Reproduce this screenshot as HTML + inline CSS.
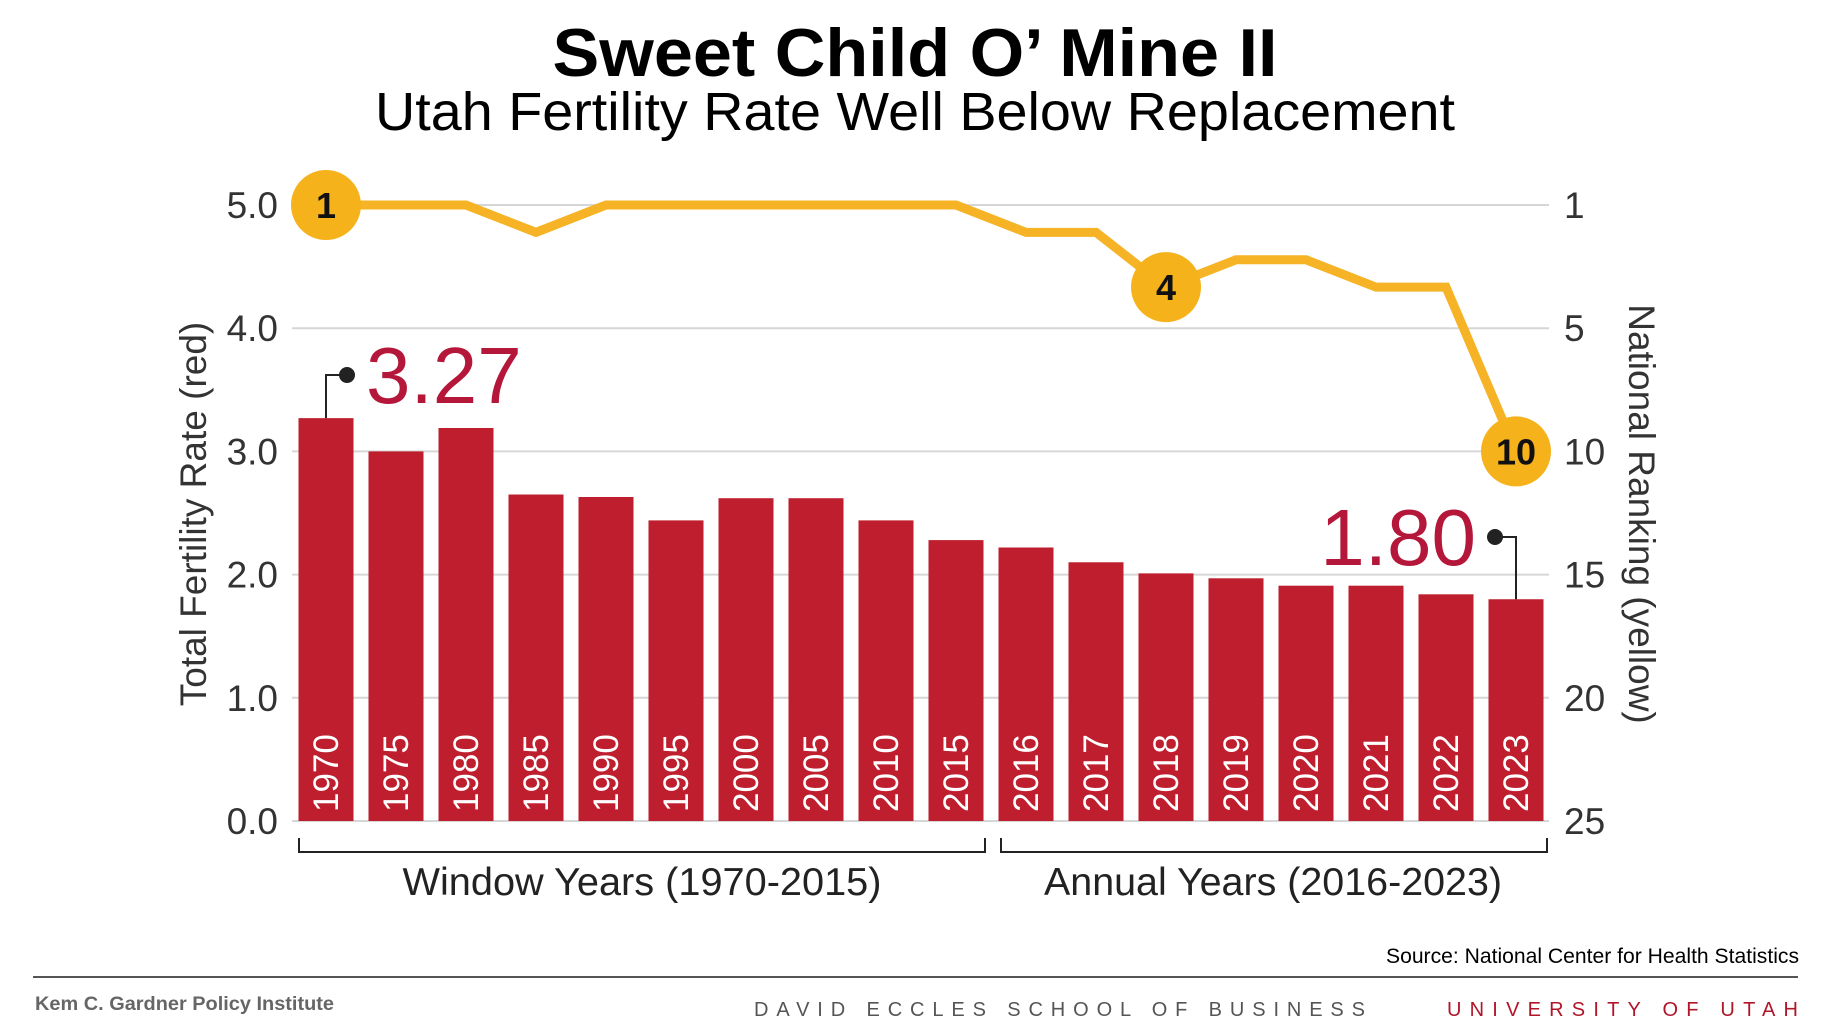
<!DOCTYPE html>
<html><head><meta charset="utf-8"><style>
html,body{margin:0;padding:0;background:#fff;}
svg{display:block;font-family:"Liberation Sans",sans-serif;}
</style></head><body>
<svg id="chart" width="1824" height="1026" viewBox="0 0 1824 1026">
<text x="915" y="76" text-anchor="middle" font-size="68" font-weight="bold" fill="#000" textLength="725" lengthAdjust="spacingAndGlyphs">Sweet Child O’ Mine II</text>
<text x="915" y="130" text-anchor="middle" font-size="54" fill="#000" textLength="1080" lengthAdjust="spacingAndGlyphs">Utah Fertility Rate Well Below Replacement</text>
<g id="grid"></g><g id="bars"></g><g id="line"></g><g id="axes"></g>
<text transform="translate(206,514) rotate(-90)" text-anchor="middle" font-size="37" fill="#333">Total Fertility Rate (red)</text>
<text transform="translate(1629,514) rotate(90)" text-anchor="middle" font-size="37" fill="#333">National Ranking (yellow)</text>
<path d="M299,838 V852 H985 V838" fill="none" stroke="#222" stroke-width="2"/>
<path d="M1001,838 V852 H1547 V838" fill="none" stroke="#222" stroke-width="2"/>
<text x="642" y="895" text-anchor="middle" font-size="39" fill="#222" textLength="479" lengthAdjust="spacingAndGlyphs">Window Years (1970-2015)</text>
<text x="1273" y="895" text-anchor="middle" font-size="39" fill="#222" textLength="458" lengthAdjust="spacingAndGlyphs">Annual Years (2016-2023)</text>
<text x="1799" y="963" text-anchor="end" font-size="21" fill="#000" textLength="413" lengthAdjust="spacingAndGlyphs">Source:  National Center for Health Statistics</text>
<line x1="33" y1="977" x2="1798" y2="977" stroke="#555" stroke-width="2"/>
<text x="35" y="1010" font-size="19" font-weight="bold" fill="#666" textLength="299" lengthAdjust="spacingAndGlyphs">Kem C. Gardner Policy Institute</text>
<text x="754" y="1016" font-size="20" fill="#555" textLength="611" lengthAdjust="spacing">DAVID ECCLES SCHOOL OF BUSINESS</text>
<text x="1447" y="1016" font-size="20" fill="#b0152a" textLength="351" lengthAdjust="spacing">UNIVERSITY OF UTAH</text>
</svg>
<script>
const years=["1970","1975","1980","1985","1990","1995","2000","2005","2010","2015","2016","2017","2018","2019","2020","2021","2022","2023"];
const tfr=[3.27,3.00,3.19,2.65,2.63,2.44,2.62,2.62,2.44,2.28,2.22,2.10,2.01,1.97,1.91,1.91,1.84,1.80];
const rank=[1,1,1,2,1,1,1,1,1,1,2,2,4,3,3,4,4,10];
const leftTicks=["0.0","1.0","2.0","3.0","4.0","5.0"];
const rightTicks=[1,5,10,15,20,25];
const highlight=[0,12,17];
const NS="http://www.w3.org/2000/svg";
const y0=821,y5=205;
const yL=v=>y0-(v/5)*(y0-y5);
// rank line scale: rank 1 at top gridline, rank 10 at the 3.0 gridline
const yR=r=>y5+(r-1)/9*(yL(3)-y5);
// right tick labels sit on the gridlines
const yTick=i=>yL(5-i);
const xC=i=>326+i*70.0;
function mk(p,t,a){const e=document.createElementNS(NS,t);for(const k in a)e.setAttribute(k,a[k]);p.appendChild(e);return e;}
const grid=document.getElementById('grid'),bars=document.getElementById('bars'),line=document.getElementById('line'),axes=document.getElementById('axes');
leftTicks.forEach((t,i)=>{
 const v=parseFloat(t);
 const g=mk(grid,'line',{x1:292,x2:1549,y1:yL(v),y2:yL(v),stroke:'#d6d6d6','stroke-width':2});
 
 
 const l=mk(axes,'text',{x:278,y:yL(v)+13,'text-anchor':'end','font-size':37,fill:'#333'});
 l.textContent=t;
 
 
});
rightTicks.forEach((r,i)=>{
 const l=mk(axes,'text',{x:1564,y:yTick(i)+13,'font-size':37,fill:'#333'});
 l.textContent=r;
 
 
});
years.forEach((yr,i)=>{
 const b=mk(bars,'rect',{x:xC(i)-27.5,y:yL(tfr[i]),width:55,height:y0-yL(tfr[i]),fill:'#be1e2d'});
 
 
 const t=mk(bars,'text',{transform:`translate(${xC(i)+12},812) rotate(-90)`,'font-size':35,fill:'#fff'});
 t.textContent=yr;
 
 
});
const pts=rank.map((r,i)=>xC(i)+','+yR(r)).join(' ');
const pl=mk(line,'polyline',{points:pts,fill:'none',stroke:'#f5b325','stroke-width':9,'stroke-linejoin':'miter'});


highlight.forEach(i=>{
 const c=mk(line,'circle',{cx:xC(i),cy:yR(rank[i]),r:35,fill:'#f6b21b'});
 
 
 const t=mk(line,'text',{x:xC(i),y:yR(rank[i])+13,'text-anchor':'middle','font-size':36,'font-weight':'bold',fill:'#111'});
 t.textContent=rank[i];
 
 
});
const f=0,l=tfr.length-1;
const c1=mk(axes,'path',{d:`M${xC(f)},${yL(tfr[f])} V375 H347`,fill:'none',stroke:'#222','stroke-width':2});


const d1=mk(axes,'circle',{cx:347,cy:375,r:8,fill:'#222'});


const t1=mk(axes,'text',{x:366,y:403,'font-size':80,fill:'#b5173a'});
t1.textContent=tfr[f].toFixed(2);


const c2=mk(axes,'path',{d:`M1495,537 H${xC(l)} V${yL(tfr[l])}`,fill:'none',stroke:'#222','stroke-width':2});


const d2=mk(axes,'circle',{cx:1495,cy:537,r:8,fill:'#222'});


const t2=mk(axes,'text',{x:1476,y:565,'text-anchor':'end','font-size':80,fill:'#b5173a'});
t2.textContent=tfr[l].toFixed(2);


</script>
</body></html>
